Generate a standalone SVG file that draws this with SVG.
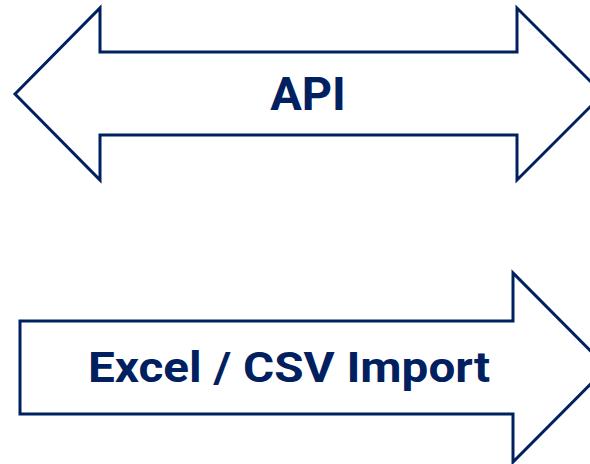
<svg xmlns="http://www.w3.org/2000/svg" width="590" height="464" viewBox="0 0 590 464">
<style>
.arrow{fill:#ffffff;stroke:#002060;stroke-width:3;stroke-linejoin:miter}
.lbl{font-family:Roboto,"Liberation Sans",sans-serif;font-weight:bold;fill:#002060}
</style>
<rect width="590" height="464" fill="#ffffff"/>
<g id="api">
<polygon class="arrow" points="15,94 100,8 100,52 517,52 517,8 603,94 517,180 517,135 100,135 100,180"/>
<text class="lbl" x="308" y="110" font-size="47" text-anchor="middle">API</text>
</g>
<g id="import">
<polygon class="arrow" points="20,321 513,321 513,273 607,367.5 513,462 513,414 20,414"/>
<text class="lbl" x="88" y="381.5" font-size="42" textLength="402" lengthAdjust="spacingAndGlyphs">Excel / CSV Import</text>
</g>
</svg>
